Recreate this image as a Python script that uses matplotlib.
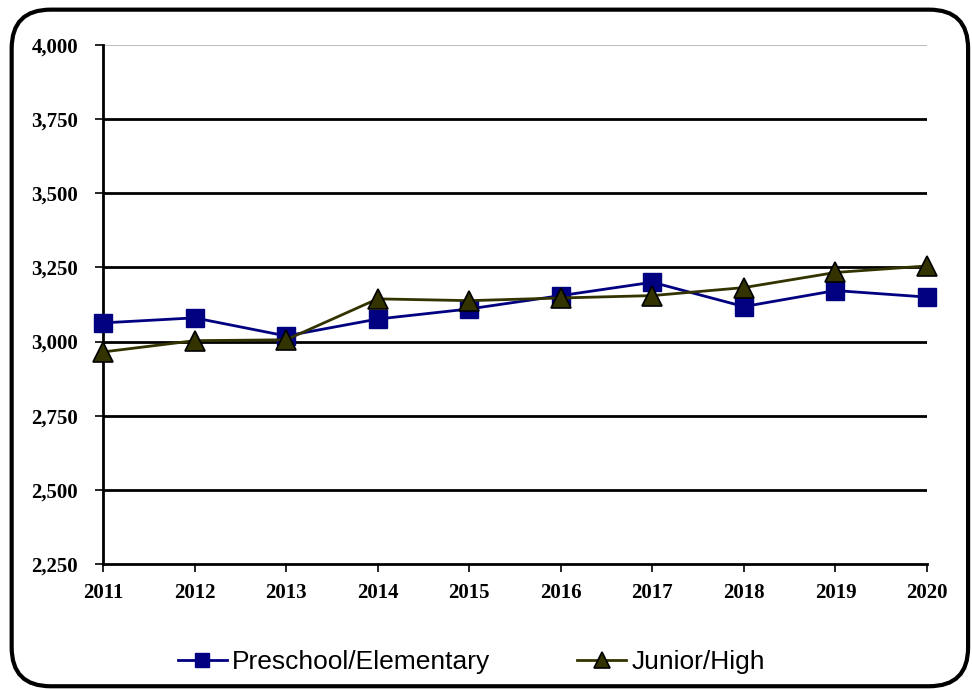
import matplotlib
matplotlib.use("Agg")
import matplotlib.pyplot as plt
from matplotlib.patches import FancyBboxPatch
from matplotlib.ticker import FuncFormatter

years = [2011, 2012, 2013, 2014, 2015, 2016, 2017, 2018, 2019, 2020]
preschool = [3063, 3080, 3019, 3076, 3110, 3155, 3200, 3118, 3172, 3150]
junior = [2965, 3003, 3006, 3144, 3138, 3147, 3155, 3182, 3233, 3255]
yticks = [2250, 2500, 2750, 3000, 3250, 3500, 3750, 4000]

fig = plt.figure(figsize=(9.72, 6.89), dpi=100)

# rounded frame around the whole chart
frame = FancyBboxPatch((0.012, 0.004), 0.984, 0.982, boxstyle="round,pad=0,rounding_size=0.04",
                       transform=fig.transFigure, fill=False, edgecolor="black", linewidth=3,
                       mutation_aspect=972 / 689)
fig.patches.append(frame)

ax = fig.add_axes([103 / 972, 1 - 564 / 689, (927 - 103) / 972, (564 - 45) / 689])

ax.plot(years, preschool, color="#000080", linewidth=2, marker="s", markersize=13,
        markerfacecolor="#000080", markeredgecolor="#000080", label="Preschool/Elementary",
        zorder=3, clip_on=False)
ax.plot(years, junior, color="#333300", linewidth=2, marker="^", markersize=15,
        markerfacecolor="#333300", markeredgecolor="black", markeredgewidth=1.2,
        label="Junior/High", zorder=4, clip_on=False)

ax.set_xlim(2011, 2020)
ax.set_ylim(2250, 4000)
ax.set_yticks(yticks)
ax.set_xticks(years)
ax.yaxis.set_major_formatter(FuncFormatter(lambda v, p: f"{int(v):,}"))
ax.set_xticklabels([str(y) for y in years])

for y in yticks[1:-1]:
    ax.axhline(y, color="black", linewidth=2, zorder=1)
ax.axhline(4000, color="#b0b0b0", linewidth=1.2, zorder=1)

for s in ["top", "right"]:
    ax.spines[s].set_visible(False)
ax.spines["left"].set_linewidth(2)
ax.spines["bottom"].set_linewidth(2)
ax.tick_params(axis="both", direction="out", length=6, width=1.2, colors="black", labelsize=15)
ax.tick_params(axis="x", pad=8)
ax.tick_params(axis="y", pad=12)
for lab in ax.get_xticklabels() + ax.get_yticklabels():
    lab.set_fontfamily("Liberation Serif")
    lab.set_fontweight("bold")

leg = fig.legend(loc="center", bbox_to_anchor=(0.485, 1 - 662 / 689), ncol=2, frameon=False,
                 prop={"family": "Liberation Sans", "size": 19}, handlelength=1.85,
                 columnspacing=3.3, handletextpad=0.2, markerscale=0.8)

fig.savefig("out.png", dpi=100)
